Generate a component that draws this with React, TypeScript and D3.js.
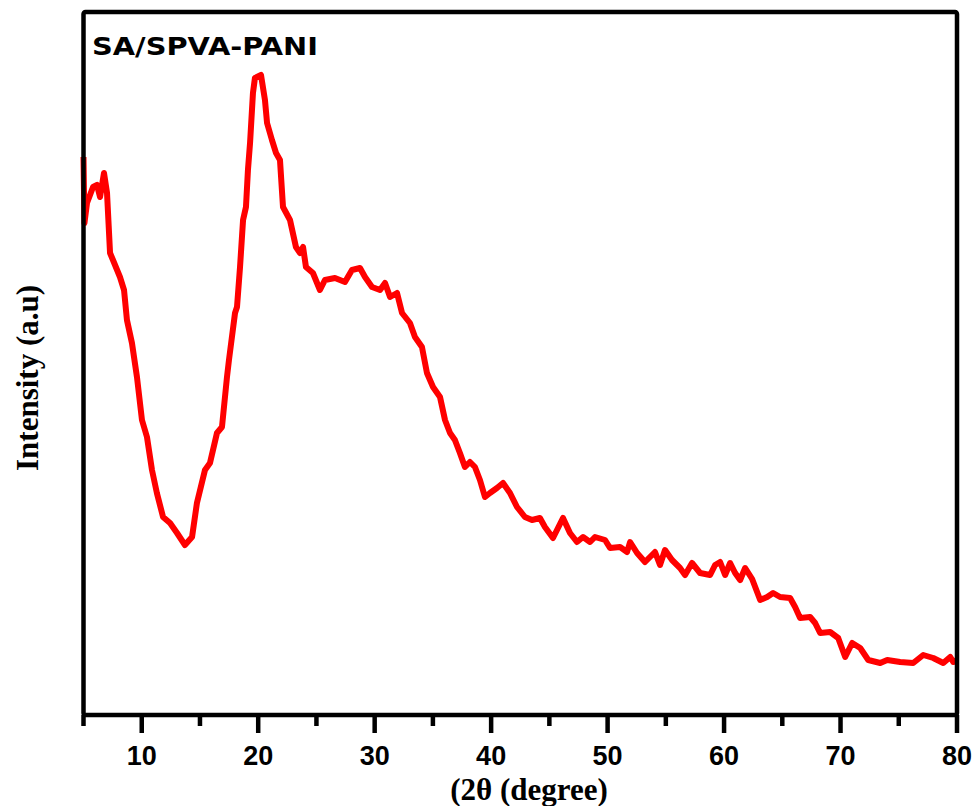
import React from "react";
import * as d3 from "d3";

// 2θ (degree)
const twoTheta: number[] = [
  5.0, 5.08, 5.3, 5.82, 6.16, 6.42, 6.76, 7.02, 7.28, 7.53, 8.13, 8.48, 8.73, 9.16, 9.59,
  10.02, 10.45, 10.88, 11.3, 11.83, 12.43, 13.03, 13.71, 14.32, 14.74, 15.43, 15.86, 16.46,
  16.89, 17.32, 17.49, 18.01, 18.18, 18.44, 18.7, 18.95, 19.12, 19.3, 19.55, 19.72, 20.24,
  20.58, 20.76, 21.18, 21.53, 21.87, 22.13, 22.73, 23.24, 23.59, 23.85, 24.1, 24.7, 25.3,
  25.73, 26.59, 27.45, 28.05, 28.74, 29.17, 29.77, 30.46, 30.89, 31.32, 31.92, 32.35, 33.03,
  33.46, 34.06, 34.49, 35.01, 35.61, 36.04, 36.47, 36.89, 37.32, 37.75, 38.18, 38.61, 39.04,
  39.47, 39.9, 40.5, 41.02, 41.62, 42.22, 42.9, 43.51, 44.19, 44.62, 45.31, 46.17, 46.77,
  47.37, 47.89, 48.49, 48.92, 49.78, 50.21, 51.07, 51.67, 51.93, 52.53, 53.21, 53.64, 54.07,
  54.5, 54.93, 55.53, 56.22, 56.65, 57.25, 57.94, 58.8, 59.23, 59.66, 60.09, 60.52, 60.95,
  61.38, 61.81, 62.41, 63.1, 63.7, 64.21, 64.81, 65.67, 66.1, 66.53, 67.39, 67.82, 68.25,
  69.11, 69.8, 70.4, 71.0, 71.69, 72.38, 73.41, 74.01, 75.12, 76.24, 77.1, 77.96, 78.82,
  79.42, 79.68, 80.0,
];

// Intensity (a.u)
const intensity: number[] = [
  558, 492, 512, 528, 530, 518, 542, 522, 462, 455, 438, 425, 395, 372, 338,
  295, 278, 245, 222, 198, 192, 182, 170, 178, 212, 245, 252, 282,
  288, 338, 355, 402, 408, 448, 495, 508, 545, 572, 622, 637, 640,
  615, 592, 575, 562, 555, 508, 495, 468, 462, 468, 448, 442, 425,
  435, 437, 433, 445, 447, 438, 428, 425, 432, 418, 422, 402, 392,
  378, 368, 342, 328, 318, 295, 282, 275, 262, 248, 253, 248, 235,
  218, 222, 227, 232, 222, 208, 198, 195, 197, 188, 177, 197, 182,
  173, 178, 173, 178, 175, 167, 168, 163, 173, 162, 153, 158, 163,
  150, 165, 155, 147, 140, 152, 142, 140, 150, 153, 140, 152, 142,
  135, 147, 136, 115, 118, 122, 118, 117, 108, 97, 98, 92, 82,
  83, 77, 58, 72, 67, 55, 52, 55, 53, 52, 60, 57, 52,
  58, 53, 55,
];

const majorTicks: number[] = [10, 20, 30, 40, 50, 60, 70, 80];
const minorTicks: number[] = [5, 15, 25, 35, 45, 55, 65, 75];

const title = "SA/SPVA-PANI";
const xLabel = "(2θ (degree)";
const yLabel = "Intensity (a.u)";

export default function App() {
  const left = 83.5, right = 957, top = 12, bottom = 715;
  const x = d3.scaleLinear().domain([5, 80]).range([left, right]);
  const y = d3.scaleLinear().domain([0, 703]).range([bottom, top]);
  const pts: [number, number][] = twoTheta.map((t, i) => [t, intensity[i]]);
  const line = d3
    .line<[number, number]>()
    .x((d) => x(d[0]))
    .y((d) => y(d[1]));

  return (
    <svg
      width={976}
      height={806}
      style={{ position: "absolute", left: 0, top: 0, background: "#fff" }}
    >
      <rect x={0} y={0} width={976} height={806} fill="#fff" />
      <path
        d={line(pts) || ""}
        fill="none"
        stroke="#ff0000"
        strokeWidth={6}
        strokeLinejoin="round"
        strokeLinecap="butt"
      />
      <rect
        x={left}
        y={top}
        width={right - left}
        height={bottom - top}
        fill="none"
        stroke="#000"
        strokeWidth={4.5}
        rx={2}
      />
      {majorTicks.map((t) => (
        <line key={"M" + t} x1={x(t)} x2={x(t)} y1={bottom} y2={bottom + 18} stroke="#000" strokeWidth={4.5} />
      ))}
      {minorTicks.map((t) => (
        <line key={"m" + t} x1={x(t)} x2={x(t)} y1={bottom} y2={bottom + 11} stroke="#000" strokeWidth={4.5} />
      ))}
      {majorTicks.map((t) => (
        <text
          key={"L" + t}
          x={x(t)}
          y={765}
          textAnchor="middle"
          fontFamily="'Liberation Sans', Arial, sans-serif"
          fontWeight="bold"
          fontSize={27}
          fill="#000"
        >
          {t}
        </text>
      ))}
      <text
        x={529}
        y={800}
        textAnchor="middle"
        fontFamily="'Liberation Serif', 'Times New Roman', serif"
        fontWeight="bold"
        fontSize={31}
        fill="#000"
      >
        {xLabel}
      </text>
      <text
        transform={`translate(38, 378) rotate(-90)`}
        textAnchor="middle"
        fontFamily="'Liberation Serif', 'Times New Roman', serif"
        fontWeight="bold"
        fontSize={31}
        fill="#000"
      >
        {yLabel}
      </text>
      <text
        x={92}
        y={55}
        fontFamily="'DejaVu Sans', Verdana, sans-serif"
        fontWeight="bold"
        fontSize={25}
        textLength={226}
        lengthAdjust="spacingAndGlyphs"
        fill="#000"
      >
        {title}
      </text>
    </svg>
  );
}
